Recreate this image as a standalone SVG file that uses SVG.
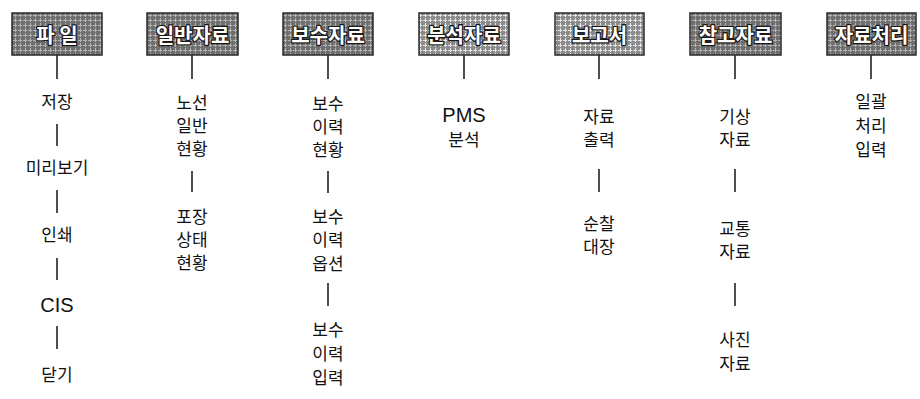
<svg xmlns="http://www.w3.org/2000/svg" width="920" height="399" viewBox="0 0 920 399">
<defs>
<pattern id="gridDark" width="5" height="5" patternUnits="userSpaceOnUse">
<rect width="5" height="5" fill="#6f6f6f"/>
<path d="M0 0.5H5M0.5 0V5" stroke="#b4b4b4" stroke-width="1" stroke-dasharray="2 1"/>
</pattern>
<pattern id="gridLight" width="5" height="5" patternUnits="userSpaceOnUse">
<rect width="5" height="5" fill="#8c8c8c"/>
<path d="M0 0.5H5M0.5 0V5" stroke="#e6e6e6" stroke-width="1" stroke-dasharray="2 1"/>
</pattern>
</defs>
<style>
.hb{stroke:#2a2a2a;stroke-width:1.5}
.dark{fill:url(#gridDark)}
.light{fill:url(#gridLight)}
.ht{font-family:"Noto Sans CJK KR","Noto Sans",sans-serif;font-size:20px;font-weight:bold;fill:#fff;stroke:#1a1a1a;stroke-width:2.6;paint-order:stroke;stroke-linejoin:round;text-anchor:middle;dominant-baseline:central}
.t{font-family:"Noto Sans CJK KR","Noto Sans",sans-serif;font-size:17px;fill:#111;text-anchor:middle;dominant-baseline:central}
.l{font-family:"Liberation Sans",Arial,sans-serif;font-size:20px}
.c line{stroke:#222;stroke-width:1.6}
</style>
<rect width="920" height="399" fill="#fff"/>
<g class="c" id="connectors">
<line x1="57" y1="55" x2="57" y2="79"/>
<line x1="57" y1="124" x2="57" y2="146"/>
<line x1="57" y1="190" x2="57" y2="213"/>
<line x1="57" y1="258" x2="57" y2="280"/>
<line x1="57" y1="326" x2="57" y2="349"/>
<line x1="192" y1="55" x2="192" y2="79"/>
<line x1="192" y1="171" x2="192" y2="192"/>
<line x1="328" y1="55" x2="328" y2="79"/>
<line x1="328" y1="171" x2="328" y2="193"/>
<line x1="328" y1="283" x2="328" y2="306"/>
<line x1="464" y1="55" x2="464" y2="79"/>
<line x1="599" y1="55" x2="599" y2="79"/>
<line x1="599" y1="169" x2="599" y2="192"/>
<line x1="735" y1="55" x2="735" y2="79"/>
<line x1="735" y1="169" x2="735" y2="192"/>
<line x1="735" y1="283" x2="735" y2="306"/>
<line x1="871" y1="55" x2="871" y2="79"/>
</g>
<g id="h1"><rect class="hb dark" x="12" y="13" width="90" height="42"/><text class="ht" x="57" y="34" xml:space="preserve">파 일</text></g>
<g id="h2"><rect class="hb dark" x="147" y="13" width="91" height="42"/><text class="ht" x="192.5" y="34">일반자료</text></g>
<g id="h3"><rect class="hb dark" x="283" y="13" width="90" height="42"/><text class="ht" x="328" y="34">보수자료</text></g>
<g id="h4"><rect class="hb light" x="419" y="13" width="90" height="42"/><text class="ht" x="464" y="34">분석자료</text></g>
<g id="h5"><rect class="hb light" x="555" y="13" width="89" height="42"/><text class="ht" x="599.5" y="34">보고서</text></g>
<g id="h6"><rect class="hb dark" x="690" y="13" width="91" height="42"/><text class="ht" x="735.5" y="34">참고자료</text></g>
<g id="h7"><rect class="hb dark" x="827" y="13" width="89" height="42"/><text class="ht" x="871.5" y="34">자료처리</text></g>
<g id="n1a"><text class="t" x="57" y="100">저장</text></g>
<g id="n1b"><text class="t" x="57" y="166">미리보기</text></g>
<g id="n1c"><text class="t" x="57" y="233">인쇄</text></g>
<g id="n1d"><text class="t" x="57" y="305"><tspan class="l">CIS</tspan></text></g>
<g id="n1e"><text class="t" x="57" y="373">닫기</text></g>
<g id="n2a"><text class="t" x="192" y="101">노선<tspan x="192" dy="23">일반</tspan><tspan x="192" dy="23">현황</tspan></text></g>
<g id="n2b"><text class="t" x="192" y="215">포장<tspan x="192" dy="23">상태</tspan><tspan x="192" dy="23">현황</tspan></text></g>
<g id="n3a"><text class="t" x="328" y="102">보수<tspan x="328" dy="23">이력</tspan><tspan x="328" dy="23">현황</tspan></text></g>
<g id="n3b"><text class="t" x="328" y="215">보수<tspan x="328" dy="23">이력</tspan><tspan x="328" dy="24">옵션</tspan></text></g>
<g id="n3c"><text class="t" x="328" y="328">보수<tspan x="328" dy="24">이력</tspan><tspan x="328" dy="24">입력</tspan></text></g>
<g id="n4a"><text class="t" x="464" y="115"><tspan class="l">PMS</tspan><tspan x="464" dy="23">분석</tspan></text></g>
<g id="n5a"><text class="t" x="599" y="115">자료<tspan x="599" dy="23">출력</tspan></text></g>
<g id="n5b"><text class="t" x="599" y="222">순찰<tspan x="599" dy="23">대장</tspan></text></g>
<g id="n6a"><text class="t" x="735" y="115">기상<tspan x="735" dy="23">자료</tspan></text></g>
<g id="n6b"><text class="t" x="735" y="227">교통<tspan x="735" dy="23">자료</tspan></text></g>
<g id="n6c"><text class="t" x="735" y="338">사진<tspan x="735" dy="24">자료</tspan></text></g>
<g id="n7a"><text class="t" x="871" y="100">일괄<tspan x="871" dy="24">처리</tspan><tspan x="871" dy="24">입력</tspan></text></g>
</svg>
